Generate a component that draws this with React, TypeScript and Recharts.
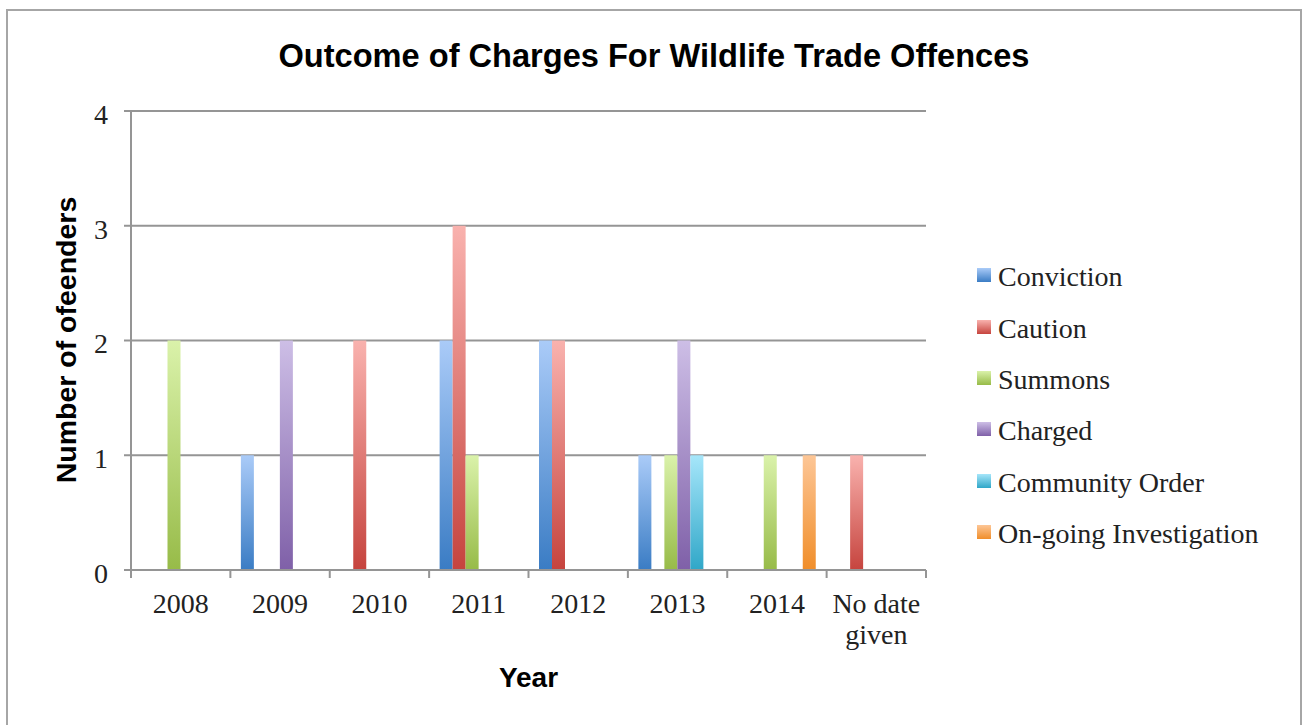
import React from 'react';
import { BarChart, Bar, XAxis, YAxis, CartesianGrid } from 'recharts';

// Categories
const years = ['2008', '2009', '2010', '2011', '2012', '2013', '2014', 'No date given'];

// Number of offenders per outcome, one value per year
const conviction = [0, 1, 0, 2, 2, 1, 0, 0];
const caution = [0, 0, 2, 3, 2, 0, 0, 1];
const summons = [2, 0, 0, 1, 0, 1, 1, 0];
const charged = [0, 2, 0, 0, 0, 2, 0, 0];
const communityOrder = [0, 0, 0, 0, 0, 1, 0, 0];
const ongoingInvestigation = [0, 0, 0, 0, 0, 0, 1, 0];

// Axis ticks
const yTicks = [0, 1, 2, 3, 4];

const series = [
  { key: 'conviction', name: 'Conviction', values: conviction, top: '#aacbf8', bottom: '#3a7cc4' },
  { key: 'caution', name: 'Caution', values: caution, top: '#f9b2ae', bottom: '#c6443e' },
  { key: 'summons', name: 'Summons', values: summons, top: '#daf2aa', bottom: '#97bb48' },
  { key: 'charged', name: 'Charged', values: charged, top: '#cdbee6', bottom: '#7f60a8' },
  { key: 'community', name: 'Community Order', values: communityOrder, top: '#a6e6fa', bottom: '#30a7c8' },
  { key: 'ongoing', name: 'On-going Investigation', values: ongoingInvestigation, top: '#fdc696', bottom: '#f08e2a' },
];

const data = years.map((year, i) => {
  const row: Record<string, any> = { year };
  series.forEach((s) => { row[s.key] = s.values[i]; });
  return row;
});

const W = 1303;
const H = 725;
const AXIS = '#959595';
const INK = '#222';
const SERIF = '"Liberation Serif", "Times New Roman", serif';
const SANS = '"Liberation Sans", Arial, sans-serif';

// greedy word wrap so long labels fit in one category band
const wrapLabel = (label: string, maxChars: number) => {
  const lines: string[] = [];
  label.split(' ').forEach((word) => {
    const last = lines[lines.length - 1];
    if (last && (last + ' ' + word).length <= maxChars) lines[lines.length - 1] = last + ' ' + word;
    else lines.push(word);
  });
  return lines;
};

// category label plus the tick marks that sit on the category boundaries
const YearTick = (props: any) => {
  const { x, y, payload, index, visibleTicksCount } = props;
  const half = payload.offset || 0;
  const isLast = index === visibleTicksCount - 1;
  const lines = wrapLabel(String(payload.value), 8);
  return (
    <g>
      <line x1={x - half} x2={x - half} y1={y} y2={y + 8} stroke={AXIS} strokeWidth={2} />
      {isLast && <line x1={x + half} x2={x + half} y1={y} y2={y + 8} stroke={AXIS} strokeWidth={2} />}
      <text x={x} y={y + 43} textAnchor="middle" fontSize={28} fontFamily={SERIF} fill={INK}>
        {lines.map((line, i) => (
          <tspan key={i} x={x} dy={i === 0 ? 0 : 31}>{line}</tspan>
        ))}
      </text>
    </g>
  );
};

export default function App() {
  return (
    <div style={{ position: 'absolute', left: 0, top: 0, width: W, height: H, overflow: 'hidden', background: '#fff' }}>
      {/* chart frame */}
      <div
        style={{
          position: 'absolute', left: 6, top: 9, width: 1296, height: 800,
          border: '2px solid #a6a6a6', boxSizing: 'border-box',
        }}
      />

      <BarChart
        width={W}
        height={H}
        data={data}
        margin={{ top: 111, right: 377, bottom: 55, left: 0 }}
        barCategoryGap={10.5}
        barGap={0}
        style={{ position: 'absolute', left: 0, top: 0 }}
      >
        <defs>
          {series.map((s) => (
            <linearGradient key={s.key} id={`grad-${s.key}`} x1="0" y1="0" x2="0" y2="1">
              <stop offset="0%" stopColor={s.top} />
              <stop offset="100%" stopColor={s.bottom} />
            </linearGradient>
          ))}
        </defs>
        <CartesianGrid vertical={false} stroke={AXIS} strokeWidth={2} />
        <XAxis
          dataKey="year"
          height={100}
          interval={0}
          tickLine={false}
          axisLine={{ stroke: AXIS, strokeWidth: 2 }}
          tickSize={0}
          tickMargin={0}
          tick={YearTick}
        />
        <YAxis
          width={131}
          domain={[0, 4]}
          ticks={yTicks}
          tickSize={7}
          tickMargin={16}
          tickLine={{ stroke: AXIS, strokeWidth: 2 }}
          axisLine={{ stroke: AXIS, strokeWidth: 2 }}
          tick={{ fontSize: 28, fontFamily: SERIF, fill: INK, dy: 3 }}
        />
        {series.map((s) => (
          <Bar
            key={s.key}
            dataKey={s.key}
            name={s.name}
            fill={`url(#grad-${s.key})`}
            isAnimationActive={false}
          />
        ))}
      </BarChart>

      {/* title and axis titles */}
      <svg width={W} height={H} style={{ position: 'absolute', left: 0, top: 0, pointerEvents: 'none' }}>
        <text x={654} y={67} textAnchor="middle" fontFamily={SANS} fontWeight="bold" fontSize={32.6} fill="#000">
          Outcome of Charges For Wildlife Trade Offences
        </text>
        <text
          x={76}
          y={340}
          transform="rotate(-90, 76, 340)"
          textAnchor="middle"
          fontFamily={SANS}
          fontWeight="bold"
          fontSize={28.5}
          fill="#000"
        >
          Number of ofeenders
        </text>
        <text x={528.5} y={687} textAnchor="middle" fontFamily={SANS} fontWeight="bold" fontSize={28} fill="#000">
          Year
        </text>
      </svg>

      {/* legend */}
      <div style={{ position: 'absolute', left: 977, top: 251.5 }}>
        {series.map((s) => (
          <div key={s.key} style={{ height: 51.4, display: 'flex', alignItems: 'center' }}>
            <div
              style={{
                width: 14, height: 14, marginRight: 7, marginTop: -4,
                background: `linear-gradient(to bottom, ${s.top}, ${s.bottom})`,
              }}
            />
            <span style={{ fontFamily: SERIF, fontSize: 28, lineHeight: '28px', color: INK, whiteSpace: 'nowrap' }}>
              {s.name}
            </span>
          </div>
        ))}
      </div>
    </div>
  );
}
